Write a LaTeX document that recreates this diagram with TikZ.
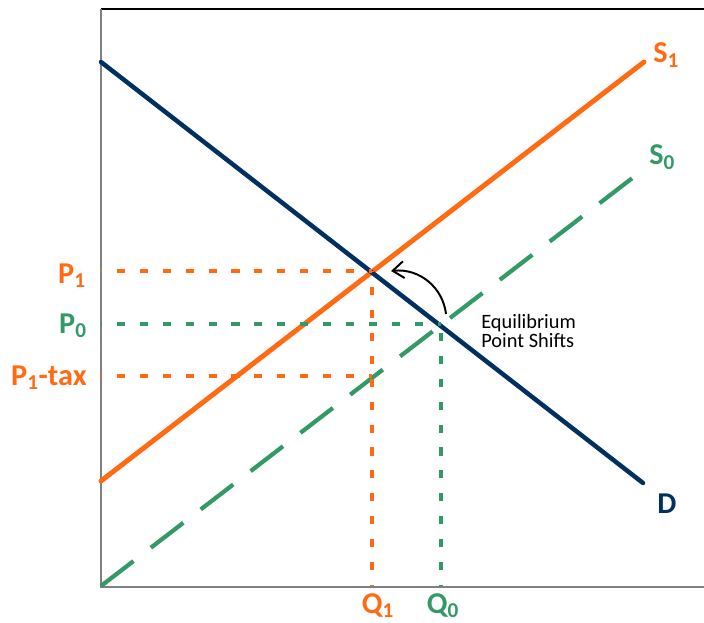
\documentclass[tikz,border=0pt]{standalone}
\usepackage{fontspec}
\setmainfont{Carlito}
\usetikzlibrary{arrows.meta}
\definecolor{SupOrange}{HTML}{FF6A13}
\definecolor{SupGreen}{HTML}{339966}
\definecolor{DemNavy}{HTML}{00305F}
\definecolor{AxisGray}{HTML}{808080}

\begin{document}
\begin{tikzpicture}[x=0.025cm,y=-0.025cm,
  lbl/.style={font=\fontsize{21.5}{25}\selectfont\bfseries,inner sep=0pt},
  dropline/.style={line width=2.6pt,dash pattern=on 5.7pt off 10.6pt,dash phase=5pt}]
\useasboundingbox (0,0) rectangle (704,623);
% axes
\draw[black,line width=1pt] (101,9) -- (704,9);
\draw[AxisGray,line width=1.4pt] (101,9) -- (101,587) -- (704,587);
% curve end points and equilibria
\coordinate (D-a) at (101,62);   \coordinate (D-b) at (643,483);
\coordinate (S1-a) at (101,481); \coordinate (S1-b) at (644,62);
\coordinate (S0-a) at (101,586); \coordinate (S0-b) at (635,176);
\coordinate (E1) at (372,271);
\coordinate (E0) at (441,324);
\coordinate (T) at (372,376);
\draw[SupGreen,line width=3pt,dash pattern=on 29.1pt off 15.6pt] (S0-a) -- (S0-b);
\draw[SupOrange,line width=3.5pt,line cap=round] (S1-a) -- (S1-b);
\draw[DemNavy,line width=3.2pt,line cap=round] (D-a) -- (D-b);
% guides to the axes
\draw[dropline,SupOrange] (E1 -| S1-a) -- (E1);
\draw[dropline,SupOrange] (T -| S1-a) -- (T);
\draw[dropline,SupOrange] (E1 |- S0-a) -- (E1);
\draw[dropline,SupGreen] (E0 -| S0-a) -- (E0);
\draw[dropline,SupGreen] (E0 |- S0-a) -- (E0);
% labels
\node[lbl,text=SupOrange,anchor=base east] (p1) at (86,283) {P\textsubscript{1}};
\node[lbl,text=SupGreen,anchor=base east] (p0) at (87,333) {P\textsubscript{0}};
\node[lbl,text=SupOrange,anchor=base east] (ptax) at (87,385) {P\textsubscript{1}-tax};
\node[lbl,text=SupOrange,anchor=base] (q1) at (378,613) {Q\textsubscript{1}};
\node[lbl,text=SupGreen,anchor=base] (q0) at (443,613) {Q\textsubscript{0}};
\node[lbl,text=SupOrange,anchor=base west] (s1) at (653,63) {S\textsubscript{1}};
\node[lbl,text=SupGreen,anchor=base west] (s0) at (649,165) {S\textsubscript{0}};
\node[lbl,text=DemNavy,anchor=base west] (d) at (657,513) {D};
\node[font=\fontsize{14.5}{13.5}\selectfont,align=left,anchor=base west,inner sep=0pt] (shift) at (481,347) {Equilibrium\\Point Shifts};
% shift arrow
\coordinate (A0) at (446,314);
\coordinate (A1) at (391,271);
\draw[-{Straight Barb[length=2.8mm,width=4.2mm]},line width=1.4pt] (A0) .. controls (443,288) and (420,268) .. (A1);
\end{tikzpicture}
\end{document}
